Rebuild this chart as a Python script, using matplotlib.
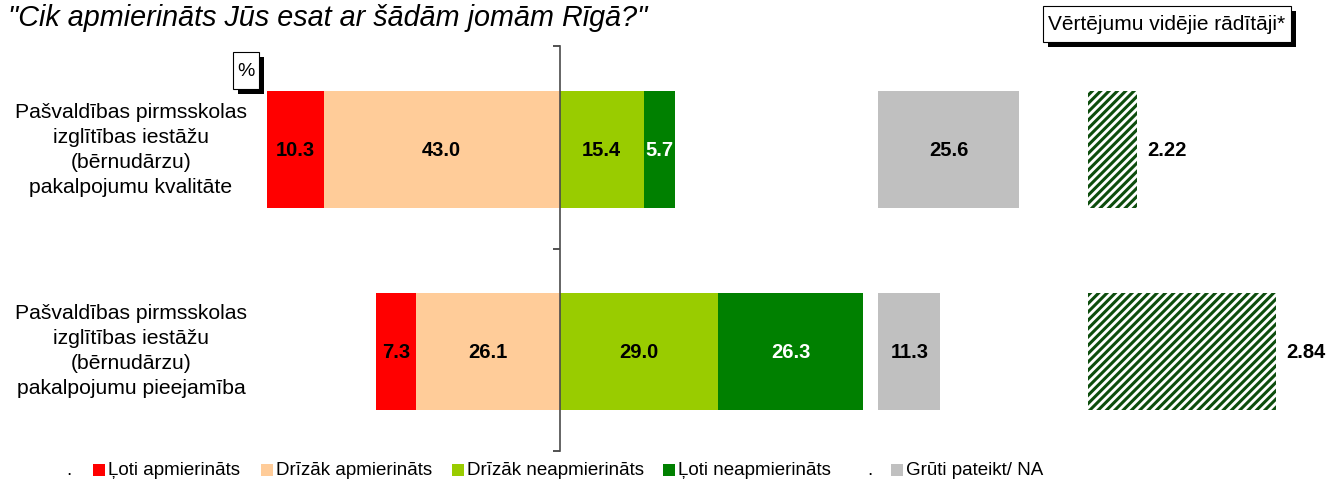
import numpy as np
import matplotlib
matplotlib.use("Agg")
import matplotlib.pyplot as plt
from matplotlib.patches import Rectangle

plt.rcParams['font.family'] = ['Liberation Sans', 'DejaVu Sans']
plt.rcParams['hatch.linewidth'] = 2.2

# data
categories = ["Pašvaldības pirmsskolas\nizglītības iestāžu\n(bērnudārzu)\npakalpojumu kvalitāte",
              "Pašvaldības pirmsskolas\nizglītības iestāžu\n(bērnudārzu)\npakalpojumu pieejamība"]
very_satisfied = [10.3, 7.3]
rather_satisfied = [43.0, 26.1]
rather_unsatisfied = [15.4, 29.0]
very_unsatisfied = [5.7, 26.3]
hard_to_say = [25.6, 11.3]
mean_scores = [2.22, 2.84]

series_names = ["Ļoti apmierināts", "Drīzāk apmierināts", "Drīzāk neapmierināts",
                "Ļoti neapmierināts", "Grūti pateikt/ NA"]
colors = ["#FF0000", "#FFCC99", "#99CC00", "#008000", "#C0C0C0"]

W, H = 1326, 481
fig = plt.figure(figsize=(W / 100, H / 100), dpi=100)


def fx(px):
    return px / W


def fy(py):
    return 1 - py / H


# main diverging axis
center_px = 559.5
px_per_pct = 5.48
ax_l, ax_r, ax_t, ax_b = 230, 1045, 47, 452
ax = fig.add_axes([fx(ax_l), fy(ax_b), fx(ax_r - ax_l), (ax_b - ax_t) / H])
ax.set_xlim((ax_l - center_px) / px_per_pct, (ax_r - center_px) / px_per_pct)
ax.set_ylim(1.5, -0.5)
ax.patch.set_alpha(0)

y = np.arange(len(categories)) + 0.01
bh = 0.58
rs = np.array(rather_satisfied)
vs = np.array(very_satisfied)
ru = np.array(rather_unsatisfied)
vu = np.array(very_unsatisfied)
hs = np.array(hard_to_say)
gray_start = 58.2

ax.barh(y, -rs, height=bh, color=colors[1], linewidth=0)
ax.barh(y, -vs, left=-rs, height=bh, color=colors[0], linewidth=0)
ax.barh(y, ru, height=bh, color=colors[2], linewidth=0)
ax.barh(y, vu, left=ru, height=bh, color=colors[3], linewidth=0)
ax.barh(y, hs, left=gray_start, height=bh, color=colors[4], linewidth=0)

lab = dict(ha='center', va='center', fontsize=14.5, fontweight='bold')
for i in range(len(categories)):
    ax.text(-rs[i] - vs[i] / 2, y[i], f"{vs[i]:.1f}", color='black', **lab)
    ax.text(-rs[i] / 2, y[i], f"{rs[i]:.1f}", color='black', **lab)
    ax.text(ru[i] / 2, y[i], f"{ru[i]:.1f}", color='black', **lab)
    ax.text(ru[i] + vu[i] / 2, y[i], f"{vu[i]:.1f}", color='white', **lab)
    ax.text(gray_start + hs[i] / 2, y[i], f"{hs[i]:.1f}", color='black', **lab)

# category labels
for py, cat in zip([150, 351], categories):
    fig.text(fx(131), fy(py), cat, ha='center', va='center', fontsize=15.2,
             linespacing=1.42)

for s in ['top', 'right', 'bottom']:
    ax.spines[s].set_visible(False)
ax.spines['left'].set_position(('data', 0))
ax.spines['left'].set_color('#4a4a4a')
ax.spines['left'].set_linewidth(1.2)
ax.spines['left'].set_zorder(5)
ax.set_yticks([-0.5, 0.5, 1.5])
ax.set_yticklabels([])
ax.tick_params(axis='y', direction='out', length=5, width=1.2, color='#333333')
ax.set_xticks([])

# mean score axis
m_l = 1088
m_px = 224.0
ax2 = fig.add_axes([fx(m_l), fy(ax_b), fx(W - m_l), (ax_b - ax_t) / H])
ax2.set_xlim(2.0, 2.0 + (W - m_l) / m_px)
ax2.set_ylim(1.5, -0.5)
ax2.axis('off')
ax2.barh(y, np.array(mean_scores) - 2.0, left=2.0, height=bh, color='white',
         edgecolor='#0d4d0d', hatch='////', linewidth=0)
for i, v in enumerate(mean_scores):
    ax2.text(v + 10 / m_px, y[i], f"{v:.2f}", ha='left', va='center',
             fontsize=14.5, fontweight='bold')

# title
fig.text(fx(8), fy(18), '"Cik apmierināts Jūs esat ar šādām jomām Rīgā?"',
         ha='left', va='center', fontsize=20.7, style='italic')


def shadow_box(x0, y0, x1, y1, text, fs):
    off = 5
    fig.patches.append(Rectangle((fx(x0 + off), fy(y1 + off)), fx(x1 - x0), (y1 - y0) / H,
                                 transform=fig.transFigure, facecolor='black',
                                 edgecolor='none', zorder=10))
    fig.patches.append(Rectangle((fx(x0), fy(y1)), fx(x1 - x0), (y1 - y0) / H,
                                 transform=fig.transFigure, facecolor='white',
                                 edgecolor='black', linewidth=0.8, zorder=11))
    fig.text(fx((x0 + x1) / 2), fy((y0 + y1) / 2), text, ha='center', va='center',
             fontsize=fs, zorder=12)


shadow_box(1043, 7, 1291, 43, "Vērtējumu vidējie rādītāji*", 15)
shadow_box(233, 53, 259, 90, "%", 14)

# legend
leg_y = 471
fig.text(fx(69), fy(leg_y), ".", ha='center', va='center', fontsize=13.5)
fig.text(fx(870), fy(leg_y), ".", ha='center', va='center', fontsize=13.5)
leg_x = [93, 261, 452, 663, 891]
for x0, name, c in zip(leg_x, series_names, colors):
    fig.patches.append(Rectangle((fx(x0), fy(leg_y + 6)), fx(12), 12 / H,
                                 transform=fig.transFigure, facecolor=c,
                                 edgecolor='none'))
    fig.text(fx(x0 + 15), fy(leg_y), name, ha='left', va='center', fontsize=13.5)

fig.savefig("out.png", dpi=100)
